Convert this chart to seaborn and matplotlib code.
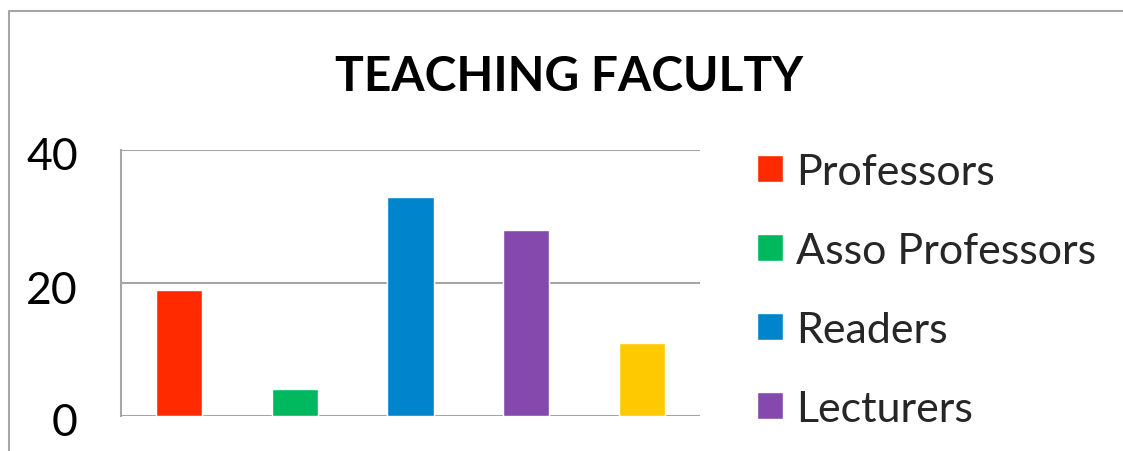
import matplotlib
matplotlib.use('Agg')
import matplotlib.pyplot as plt
import matplotlib.transforms as mtransforms
from matplotlib.lines import Line2D
import pandas as pd
import seaborn as sns

sns.set_style('white')
plt.rcParams['font.family'] = ['Lato', 'DejaVu Sans']

# data
categories = ['Professors', 'Asso Professors', 'Readers', 'Lecturers', 'Others']
counts = [19, 4, 33, 28, 11]
bar_colors = ['#FF2A00', '#00B85E', '#0085CC', '#8549AE', '#FFC900']
y_ticks = [0, 20, 40]
title = 'TEACHING FACULTY'

grid_col = '#A6A6A6'

df = pd.DataFrame({'cat': categories, 'n': counts})

fig = plt.figure(figsize=(11.23, 4.52), dpi=100)
ax = fig.add_axes([121 / 1123, 35 / 452, 579 / 1123, 266 / 452])

sns.barplot(data=df, x='cat', y='n', hue='cat', palette=dict(zip(categories, bar_colors)),
            width=0.4, saturation=1, ax=ax, legend=True)

ax.set_ylim(0, 40)
ax.set_yticks(y_ticks)
ax.set_xticks([])
ax.set_xlabel('')
ax.set_ylabel('')
ax.yaxis.grid(True, color=grid_col, lw=1.5)
ax.set_axisbelow(True)
for side in ['top', 'right', 'bottom']:
    ax.spines[side].set_visible(False)
ax.spines['left'].set_color(grid_col)
ax.spines['left'].set_linewidth(1.5)
ax.tick_params(axis='y', length=0, pad=31, labelsize=32, labelcolor='black')
offset = mtransforms.ScaledTranslation(0, -3 / 100, fig.dpi_scale_trans)
for lbl in ax.get_yticklabels():
    lbl.set_transform(lbl.get_transform() + offset)

# legend: only the first four entries fit inside the picture
old = ax.get_legend()
handles = old.legend_handles
labels = [t.get_text() for t in old.get_texts()]
old.remove()
ax.legend(handles[:4], labels[:4], loc='upper left', bbox_to_anchor=(757 / 1123, 1 - 154 / 452),
          bbox_transform=fig.transFigure, frameon=False, fontsize=31, borderpad=0,
          borderaxespad=0, handlelength=0.6, handleheight=0.6, handletextpad=0.3,
          labelspacing=0.95)

fig.text(569 / 1123, 1 - 77 / 452, title, ha='center', va='center', fontsize=34.5,
         fontweight='bold', color='black')

# outer chart border: only left and top edges show in the picture
fig.add_artist(Line2D([9 / 1123, 9 / 1123, 1.05], [-0.05, 1 - 12 / 452, 1 - 12 / 452],
                      transform=fig.transFigure, color=grid_col, lw=1.5))

fig.savefig('out.png', dpi=100)
